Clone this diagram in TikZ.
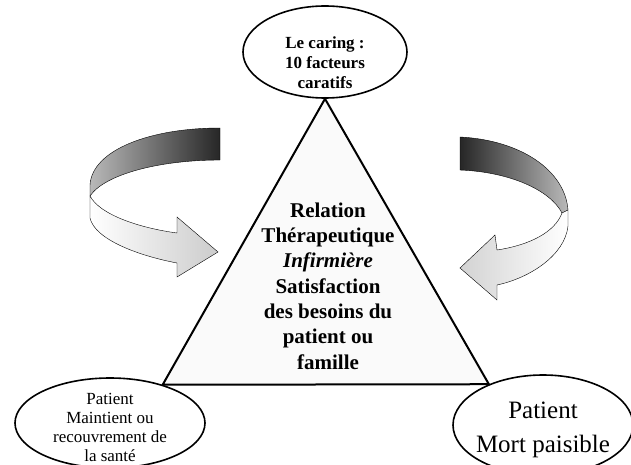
\documentclass[tikz,border=0pt]{standalone}
\usepackage{fontspec}
\setmainfont{Liberation Serif}
\usetikzlibrary{shapes.geometric,positioning}
\tikzset{
  oval/.style={
    shape=ellipse,
    draw=black,
    line width=1.6pt,
    fill=white,
    inner sep=0pt
  },
  ovaltext/.style={
    align=center,
    inner sep=0pt
  },
  ribbondark/.style={
    draw=black,
    line width=0.4pt
  },
  ribbonlight/.style={
    draw=black,
    line width=0.4pt,
    left color=white,
    right color=gray!40
  }
}

\begin{document}
\begin{tikzpicture}[x=1pt,y=-1pt]
    \useasboundingbox (0,0) rectangle (631,465);
    % ovals
    \node[oval,minimum width=164pt,minimum height=92pt] (caring) at (325,52) {};
    \node[oval,minimum width=190pt,minimum height=90pt] (maintien) at (110,423) {};
    \node[oval,minimum width=180pt,minimum height=100pt] (mort) at (543,425) {};
    \node[ovaltext,font=\fontsize{17}{20}\selectfont\bfseries] (caringtext) at ([yshift=-11pt]caring.center) {Le caring :\\10 facteurs\\caratifs};
    \node[ovaltext,font=\fontsize{17}{19}\selectfont] (maintientext) at ([yshift=-4pt]maintien.center) {Patient\\Maintient ou\\recouvrement de\\la santé};
    \node[ovaltext,font=\fontsize{25}{34}\selectfont] (morttext) at ([yshift=-5pt]mort.center) {Patient\\Mort paisible};
    % triangle
    \coordinate (apex) at (caring.south);
    \coordinate (gauche) at (maintien.36);
    \coordinate (droite) at (mort.143);
    \draw[line width=2pt,line join=miter,fill=gray!4] (apex) -- (gauche) -- (droite) -- cycle;
    \node[ovaltext,font=\fontsize{21}{25.3}\selectfont\bfseries] (relation) at (328,286) {Relation\\Thérapeutique\\\textit{Infirmière}\\Satisfaction\\des besoins du\\patient ou\\famille};
    % left curved arrow
    \path[ribbondark,left color=gray!55,right color=black!85] (220,128) .. controls (150,128) and (92,150) .. (90,185) -- (90,196)
      .. controls (105,174) and (160,160) .. (220,160) -- cycle;
    \path[ribbonlight] (90,196) -- (90,218) .. controls (95,240) and (140,256) .. (177,263) -- (177,277) -- (218,252)
      -- (177,217) -- (177,233) .. controls (140,228) and (100,215) .. (90,196) -- cycle;
    % right curved arrow
    \path[ribbondark,left color=black!85,right color=gray!55] (460,137) .. controls (520,140) and (565,170) .. (568,210) -- (562,213)
      .. controls (550,190) and (510,172) .. (460,170) -- cycle;
    \path[ribbonlight,left color=gray!35,right color=white] (568,210) -- (568,226) .. controls (565,255) and (530,278) .. (497,285)
      -- (497,300) -- (460,268) -- (495,235) -- (497,250) .. controls (530,245) and (555,232) .. (562,213) -- cycle;
\end{tikzpicture}
\end{document}
